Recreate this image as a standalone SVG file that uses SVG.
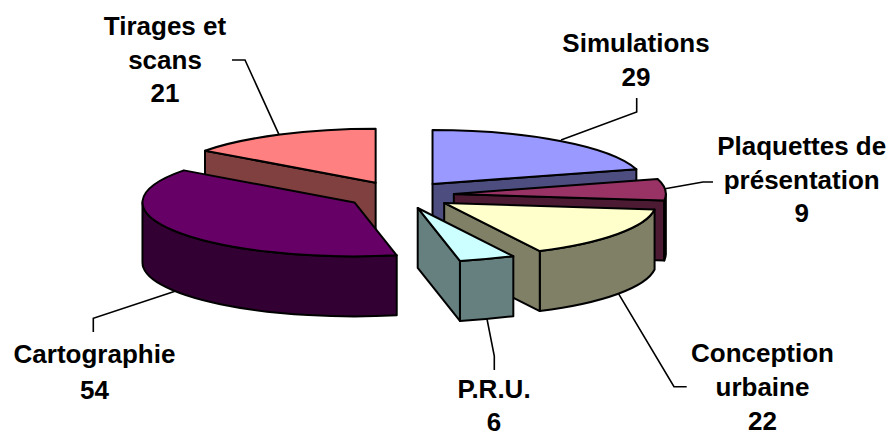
<svg xmlns="http://www.w3.org/2000/svg" width="895" height="437" viewBox="0 0 895 437">
<style>
.f{stroke:#000;stroke-width:2;stroke-linejoin:round}
.ld{fill:none;stroke:#000;stroke-width:1.6;stroke-linejoin:miter}
text{font-family:"Liberation Sans",Arial,Helvetica,sans-serif;font-weight:bold;font-size:26px;fill:#000;text-anchor:middle}
</style>
<rect width="895" height="437" fill="#fff"/>
<g id="tirages">
<path class="f" fill="#804040" d="M375.65,182.72 L205.01,150.68 L205.01,210.68 L375.65,242.72 Z"/>
<path class="f" fill="#FF8080" d="M375.65,182.72 L205.01,150.68 A212,54 0 0 1 375.65,128.72 Z"/>
</g>
<g id="simulations">
<path class="f" fill="#4D4D80" d="M432.52,184.02 L636.35,169.17 L636.35,229.17 L432.52,244.02 Z"/>
<path class="f" fill="#9999FF" d="M432.52,184.02 L432.52,130.02 A212,54 0 0 1 636.35,169.17 Z"/>
</g>
<g id="plaquettes">
<path class="f" fill="#4D1A33" d="M453.84,193.93 L664.25,200.53 L664.25,260.53 L453.84,253.93 Z"/>
<path class="f" fill="#4D1A33" d="M665.84,193.93 A212,54 0 0 1 664.25,200.53 L664.25,260.53 A212,54 0 0 0 665.84,253.93 Z"/>
<path class="f" fill="#993366" d="M453.84,193.93 L657.67,179.08 A212,54 0 0 1 664.25,200.53 Z"/>
</g>
<g id="cartographie">
<path class="f" fill="#330033" d="M396.71,255.32 A212,54 0 0 1 142.48,202.40 L142.48,262.40 A212,54 0 0 0 396.71,315.32 Z"/>
<path class="f" fill="#660066" d="M354.48,202.40 L396.71,255.32 A212,54 0 0 1 183.84,170.36 Z"/>
</g>
<g id="conception">
<path class="f" fill="#808066" d="M654.58,209.51 A212,54 0 0 1 539.78,251.11 L539.78,311.11 A212,54 0 0 0 654.58,269.51 Z"/>
<path class="f" fill="#808066" d="M444.17,202.91 L539.78,251.11 L539.78,311.11 L444.17,262.91 Z"/>
<path class="f" fill="#FFFFCC" d="M444.17,202.91 L654.58,209.51 A212,54 0 0 1 539.78,251.11 Z"/>
</g>
<g id="pru">
<path class="f" fill="#668080" d="M513.32,256.19 A212,54 0 0 1 459.94,260.91 L459.94,320.91 A212,54 0 0 0 513.32,316.19 Z"/>
<path class="f" fill="#668080" d="M417.71,207.99 L459.94,260.91 L459.94,320.91 L417.71,267.99 Z"/>
<path class="f" fill="#CCFFFF" d="M417.71,207.99 L513.32,256.19 A212,54 0 0 1 459.94,260.91 Z"/>
</g>
<g id="connectors">
<path class="ld" d="M232,60 L245,60 L279,134.6"/>
<path class="ld" d="M636.7,98 L636.7,112 L561,140"/>
<path class="ld" d="M713,182 L703,182 L665,188.8"/>
<path class="ld" d="M93.3,332 L93.3,318.3 L175,291.3"/>
<path class="ld" d="M494.3,370 L494.3,356 L487,319"/>
<path class="ld" d="M686.7,386.7 L674,386.7 L618.5,293.7"/>
</g>
<g id="labels">
<text x="165" y="35">Tirages et</text>
<text x="165" y="68.5">scans</text>
<text x="165" y="102">21</text>
<text x="636" y="51.7">Simulations</text>
<text x="636" y="86">29</text>
<text x="801.7" y="155">Plaquettes de</text>
<text x="801.7" y="189">présentation</text>
<text x="801.7" y="222">9</text>
<text x="94.5" y="363">Cartographie</text>
<text x="94.5" y="399">54</text>
<text x="494" y="398">P.R.U.</text>
<text x="494" y="431">6</text>
<text x="762.5" y="361.7">Conception</text>
<text x="762.5" y="395.5">urbaine</text>
<text x="762.5" y="430">22</text>
</g>
</svg>
